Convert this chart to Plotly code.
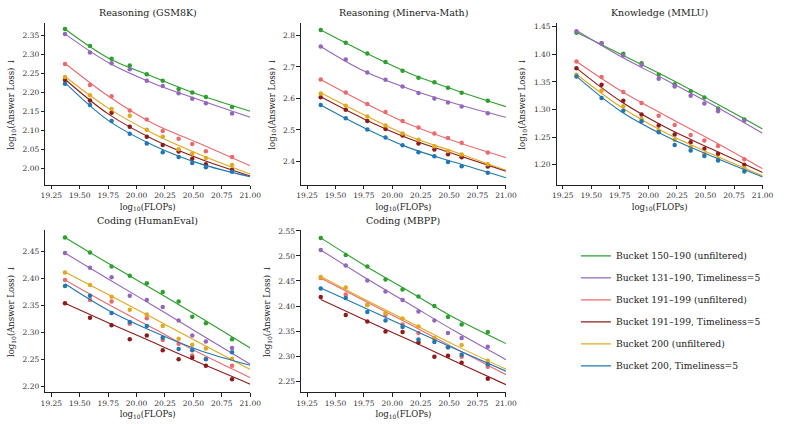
import plotly.graph_objects as go

# ---------------- data ----------------
flops = [19.37, 19.59, 19.78, 19.94, 20.09, 20.23, 20.37, 20.49, 20.61, 20.84]
fit_x = [19.37, 19.75, 20.15, 20.55, 21.0]

series_names = [
    "Bucket 150–190 (unfiltered)",
    "Bucket 131–190, Timeliness=5",
    "Bucket 191–199 (unfiltered)",
    "Bucket 191–199, Timeliness=5",
    "Bucket 200 (unfiltered)",
    "Bucket 200, Timeliness=5",
]
colors = ["#2ca02c", "#9467bd", "#ec6a6c", "#8e1b1b", "#e3a81c", "#1f77b4"]

panel_titles = ["Reasoning (GSM8K)", "Reasoning (Minerva-Math)", "Knowledge (MMLU)",
                "Coding (HumanEval)", "Coding (MBPP)"]

# observed points per panel (order = series_names)
gsm8k_pts = [
    [2.366, 2.321, 2.288, 2.270, 2.247, 2.230, 2.208, 2.199, 2.187, 2.161],
    [2.353, 2.304, 2.276, 2.260, 2.230, 2.216, 2.197, 2.183, 2.171, 2.144],
    [2.274, 2.219, 2.189, 2.152, 2.128, 2.098, 2.078, 2.064, 2.045, 2.030],
    [2.232, 2.178, 2.146, 2.109, 2.083, 2.061, 2.044, 2.025, 2.011, 1.996],
    [2.240, 2.192, 2.156, 2.138, 2.101, 2.083, 2.050, 2.039, 2.027, 2.009],
    [2.222, 2.166, 2.124, 2.091, 2.065, 2.042, 2.030, 2.014, 2.003, 1.991],
]
minerva_pts = [
    [2.817, 2.777, 2.743, 2.716, 2.688, 2.666, 2.651, 2.634, 2.618, 2.593],
    [2.765, 2.724, 2.682, 2.659, 2.638, 2.617, 2.600, 2.587, 2.574, 2.553],
    [2.660, 2.619, 2.582, 2.557, 2.528, 2.508, 2.489, 2.474, 2.459, 2.428],
    [2.604, 2.564, 2.528, 2.503, 2.482, 2.457, 2.438, 2.423, 2.413, 2.384],
    [2.616, 2.577, 2.543, 2.514, 2.489, 2.469, 2.448, 2.433, 2.422, 2.391],
    [2.579, 2.537, 2.501, 2.476, 2.451, 2.429, 2.416, 2.398, 2.385, 2.364],
]
mmlu_pts = [
    [1.439, 1.420, 1.401, 1.384, 1.363, 1.346, 1.333, 1.322, 1.302, 1.282],
    [1.442, 1.420, 1.398, 1.381, 1.356, 1.342, 1.325, 1.311, 1.297, 1.280],
    [1.387, 1.359, 1.332, 1.312, 1.289, 1.272, 1.254, 1.244, 1.234, 1.210],
    [1.375, 1.345, 1.316, 1.291, 1.271, 1.255, 1.241, 1.229, 1.220, 1.200],
    [1.363, 1.334, 1.306, 1.283, 1.262, 1.245, 1.232, 1.220, 1.211, 1.194],
    [1.360, 1.321, 1.298, 1.279, 1.259, 1.236, 1.226, 1.216, 1.208, 1.188],
]
humaneval_pts = [
    [2.476, 2.448, 2.422, 2.405, 2.391, 2.375, 2.357, 2.329, 2.317, 2.287],
    [2.447, 2.420, 2.402, 2.368, 2.360, 2.347, 2.322, 2.294, 2.283, 2.271],
    [2.397, 2.360, 2.357, 2.316, 2.326, 2.286, 2.279, 2.257, 2.251, 2.238],
    [2.354, 2.327, 2.313, 2.287, 2.294, 2.267, 2.250, 2.253, 2.238, 2.213],
    [2.411, 2.388, 2.366, 2.342, 2.333, 2.312, 2.288, 2.277, 2.270, 2.251],
    [2.386, 2.368, 2.336, 2.319, 2.312, 2.290, 2.269, 2.267, 2.250, 2.263],
]
mbpp_pts = [
    [2.536, 2.502, 2.479, 2.453, 2.433, 2.419, 2.400, 2.378, 2.363, 2.348],
    [2.512, 2.481, 2.451, 2.429, 2.412, 2.389, 2.371, 2.346, 2.336, 2.319],
    [2.456, 2.423, 2.402, 2.382, 2.363, 2.346, 2.334, 2.318, 2.299, 2.279],
    [2.418, 2.382, 2.369, 2.349, 2.348, 2.327, 2.299, 2.301, 2.287, 2.255],
    [2.458, 2.437, 2.402, 2.386, 2.375, 2.359, 2.336, 2.319, 2.322, 2.291],
    [2.435, 2.416, 2.388, 2.371, 2.358, 2.333, 2.328, 2.318, 2.303, 2.284],
]

# fitted curves read at fit_x
gsm8k_fit = [
    [2.366, 2.290, 2.240, 2.193, 2.150],
    [2.353, 2.278, 2.223, 2.180, 2.134],
    [2.276, 2.190, 2.117, 2.066, 2.007],
    [2.234, 2.143, 2.076, 2.026, 1.980],
    [2.241, 2.158, 2.091, 2.037, 1.985],
    [2.225, 2.126, 2.060, 2.013, 1.978],
]
minerva_fit = [
    [2.817, 2.747, 2.680, 2.627, 2.574],
    [2.765, 2.687, 2.630, 2.584, 2.540],
    [2.660, 2.587, 2.518, 2.464, 2.412],
    [2.605, 2.535, 2.472, 2.423, 2.369],
    [2.618, 2.548, 2.480, 2.430, 2.372],
    [2.579, 2.507, 2.443, 2.397, 2.348],
]
mmlu_fit = [
    [1.440, 1.401, 1.360, 1.316, 1.265],
    [1.443, 1.397, 1.354, 1.310, 1.257],
    [1.387, 1.335, 1.289, 1.245, 1.193],
    [1.375, 1.316, 1.268, 1.229, 1.186],
    [1.364, 1.306, 1.258, 1.220, 1.180],
    [1.360, 1.298, 1.252, 1.216, 1.178],
]
humaneval_fit = [
    [2.476, 2.428, 2.379, 2.329, 2.271],
    [2.447, 2.399, 2.349, 2.298, 2.241],
    [2.397, 2.352, 2.307, 2.262, 2.216],
    [2.354, 2.318, 2.281, 2.244, 2.204],
    [2.412, 2.370, 2.326, 2.281, 2.231],
    [2.390, 2.341, 2.301, 2.267, 2.239],
]
mbpp_fit = [
    [2.536, 2.482, 2.429, 2.376, 2.325],
    [2.512, 2.458, 2.404, 2.350, 2.293],
    [2.456, 2.411, 2.364, 2.316, 2.263],
    [2.413, 2.373, 2.332, 2.290, 2.243],
    [2.459, 2.414, 2.368, 2.322, 2.274],
    [2.436, 2.397, 2.356, 2.315, 2.270],
]

panel_pts = [gsm8k_pts, minerva_pts, mmlu_pts, humaneval_pts, mbpp_pts]
panel_fit = [gsm8k_fit, minerva_fit, mmlu_fit, humaneval_fit, mbpp_fit]

x_ticks = [19.25, 19.50, 19.75, 20.00, 20.25, 20.50, 20.75, 21.00]
y_ticks = [
    [2.00, 2.05, 2.10, 2.15, 2.20, 2.25, 2.30, 2.35],
    [2.4, 2.5, 2.6, 2.7, 2.8],
    [1.20, 1.25, 1.30, 1.35, 1.40, 1.45],
    [2.20, 2.25, 2.30, 2.35, 2.40, 2.45],
    [2.25, 2.30, 2.35, 2.40, 2.45, 2.50, 2.55],
]
y_fmt = [".2f", ".1f", ".2f", ".2f", ".2f"]
y_ranges = [[1.957, 2.382], [2.326, 2.840], [1.164, 1.457], [2.189, 2.490], [2.228, 2.552]]
x_range = [19.196, 21.0]

# ---------------- layout geometry ----------------
W, H = 789, 424
x_doms = [[42 / W, 251 / W], [302.7 / W, 511.7 / W], [563.3 / W, 773.3 / W],
          [42 / W, 251 / W], [302.7 / W, 511.7 / W]]
top_dom = [1 - 183 / H, 1 - 20 / H]
bot_dom = [1 - 392 / H, 1 - 228.5 / H]
y_doms = [top_dom, top_dom, top_dom, bot_dom, bot_dom]

FONT = "DejaVu Serif"
fig = go.Figure()

for p in range(5):
    xa = "x" if p == 0 else f"x{p+1}"
    ya = "y" if p == 0 else f"y{p+1}"
    for s in range(6):
        fig.add_trace(go.Scatter(
            x=fit_x, y=panel_fit[p][s], mode="lines", line=dict(color=colors[s], width=1.1, shape="spline"),
            xaxis=xa, yaxis=ya, showlegend=False, hoverinfo="skip"))
        fig.add_trace(go.Scatter(
            x=flops, y=panel_pts[p][s], mode="markers", marker=dict(color=colors[s], size=4.5),
            xaxis=xa, yaxis=ya, showlegend=False))

# legend entries
for s in range(6):
    fig.add_trace(go.Scatter(x=[None], y=[None], mode="lines", name=series_names[s],
                             line=dict(color=colors[s], width=1.3), legendgroup=f"g{s}", showlegend=True))

layout = dict(
    width=W, height=H, margin=dict(l=0, r=0, t=0, b=0),
    paper_bgcolor="white", plot_bgcolor="white",
    font=dict(family=FONT, size=8, color="#222"),
    legend=dict(x=583 / W, y=1 - 240 / H, xanchor="left", yanchor="top",
                font=dict(family=FONT, size=9.2, color="#222"), tracegroupgap=3,
                bgcolor="rgba(0,0,0,0)"),
    annotations=[],
)

for p in range(5):
    xk = "xaxis" if p == 0 else f"xaxis{p+1}"
    yk = "yaxis" if p == 0 else f"yaxis{p+1}"
    ya = "y" if p == 0 else f"y{p+1}"
    xa = "x" if p == 0 else f"x{p+1}"
    layout[xk] = dict(domain=x_doms[p], anchor=ya, range=x_range, tickvals=x_ticks,
                      tickformat=".2f", showline=True, linecolor="#222", linewidth=1,
                      ticks="outside", ticklen=3.5, tickcolor="#222", showgrid=False, zeroline=False,
                      tickfont=dict(size=7.5, color="#333"),
                      title=dict(text="log<sub>10</sub>(FLOPs)", font=dict(size=8.5), standoff=4))
    layout[yk] = dict(domain=y_doms[p], anchor=xa, range=y_ranges[p], tickvals=y_ticks[p],
                      tickformat=y_fmt[p], showline=True, linecolor="#222", linewidth=1,
                      ticks="outside", ticklen=3.5, tickcolor="#222", showgrid=False, zeroline=False,
                      tickfont=dict(size=7.5, color="#333"),
                      title=dict(text="log<sub>10</sub>(Answer Loss) ↓", font=dict(size=8.5), standoff=6))
    cx = (x_doms[p][0] + x_doms[p][1]) / 2
    ty = 1 - 10 / H if p < 3 else 1 - 219 / H
    layout["annotations"].append(dict(
        text=panel_titles[p], x=cx, y=ty, xref="paper", yref="paper",
        xanchor="center", yanchor="middle", showarrow=False,
        font=dict(family=FONT, size=9.5, color="#222")))

fig.update_layout(**layout)
fig.write_html("out.html")
